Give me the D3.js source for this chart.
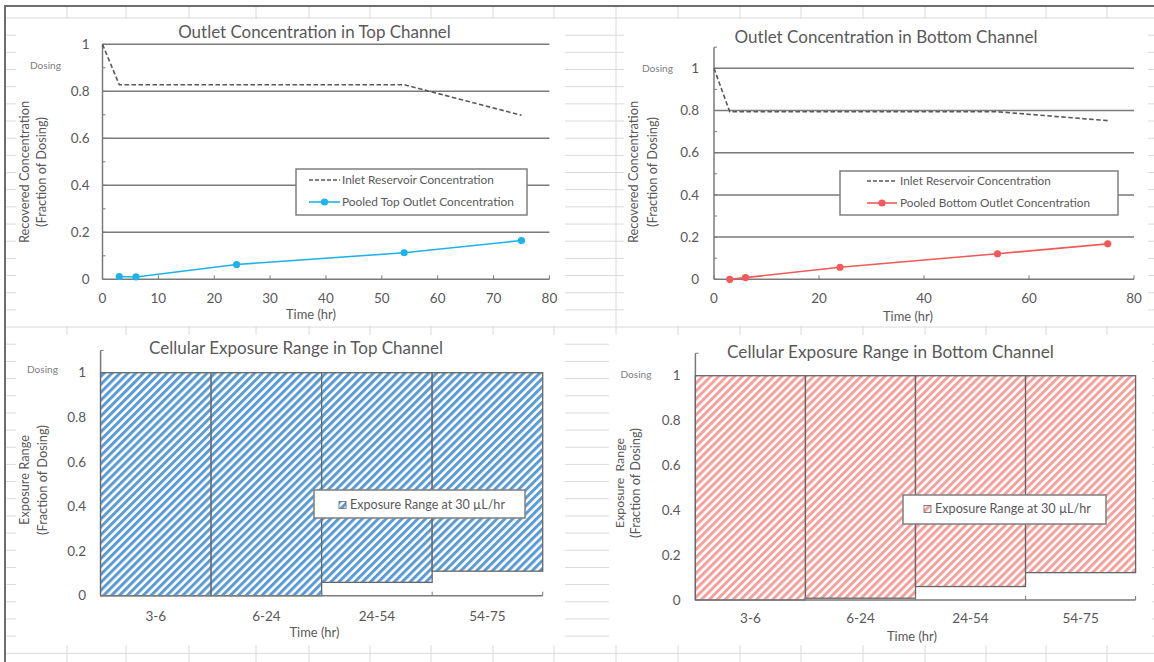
<!DOCTYPE html>
<html>
<head>
<meta charset="utf-8">
<script src="https://cdn.jsdelivr.net/npm/d3@7"></script>
<style>
  html, body { margin: 0; padding: 0; background: #ffffff; }
  svg { display: block; }
  text { font-family: Lato, "Open Sans", sans-serif; fill: #595959; }
</style>
</head>
<body>
<svg id="sheet" width="1154" height="662"></svg>
<script>
// ---- data ----
const timeTicks = [0, 10, 20, 30, 40, 50, 60, 70, 80];
const timeTicksWide = [0, 20, 40, 60, 80];
const fractionTicks = [0, 0.2, 0.4, 0.6, 0.8, 1];

const inletTimes = [0, 3, 54, 75];
const topInlet = [1, 0.828, 0.828, 0.698];
const bottomInlet = [1, 0.794, 0.794, 0.752];

const outletTimes = [3, 6, 24, 54, 75];
const topOutlet = [0.012, 0.010, 0.063, 0.113, 0.165];
const bottomOutlet = [0.0, 0.008, 0.057, 0.121, 0.168];

const exposureCategories = ["3-6", "6-24", "24-54", "54-75"];
const topExposureLow = [0, 0, 0.06, 0.11];
const topExposureHigh = [1, 1, 1, 1];
const bottomExposureLow = [0, 0.008, 0.06, 0.122];
const bottomExposureHigh = [1, 1, 1, 1];

// ---- styles ----
const GRID = "#7a7a7a";
const AXIS = "#7a7a7a";
const BLUE_LINE = "#1fb2ea";
const RED_LINE = "#f05a58";
const BLUE_HATCH = "#5b9bd5";
const RED_HATCH = "#f4a09c";
const TICK_FS = 13.5;

const svg = d3.select("#sheet");
const fmt = d => (d === 0 ? "0" : d === 1 ? "1" : d3.format(".1f")(d));

// resize a text element so its rendered width equals w
function fitWidth(sel, w) {
  const len = sel.node().getComputedTextLength();
  const fs = parseFloat(sel.attr("font-size"));
  if (len > 0) sel.attr("font-size", (fs * w / len).toFixed(2));
  return sel;
}

// ---- hatch patterns ----
const defs = svg.append("defs");
function hatch(id, color) {
  const p = defs.append("pattern")
    .attr("id", id)
    .attr("patternUnits", "userSpaceOnUse")
    .attr("width", 5.6).attr("height", 5.6)
    .attr("patternTransform", "rotate(45)");
  p.append("rect").attr("width", 5.6).attr("height", 5.6).attr("fill", "#ffffff");
  p.append("rect").attr("width", 3).attr("height", 5.6).attr("fill", color);
}
hatch("hatchBlue", BLUE_HATCH);
hatch("hatchRed", RED_HATCH);

// ---- worksheet background ----
const colLines = [67, 126, 189, 256, 309, 370, 431, 493, 554, 616, 678, 740, 801, 863, 925, 986, 1046, 1107];
const sheetGrid = svg.append("g").attr("stroke", "#dadada").attr("stroke-width", 1);
colLines.forEach(x => sheetGrid.append("line").attr("x1", x).attr("x2", x).attr("y1", 7).attr("y2", 662));
for (let y = 18; y < 662; y += 17.17) {
  sheetGrid.append("line").attr("x1", 5).attr("x2", 1154).attr("y1", y).attr("y2", y);
}
svg.append("line").attr("x1", 5).attr("x2", 5).attr("y1", 5).attr("y2", 662)
  .attr("stroke", "#6e6e6e").attr("stroke-width", 2);
svg.append("line").attr("x1", 4).attr("x2", 1154).attr("y1", 6).attr("y2", 6)
  .attr("stroke", "#6e6e6e").attr("stroke-width", 2);

// chart areas
[[16, 19, 549, 307], [624, 19, 524, 307], [16, 335, 549, 310], [609, 335, 543, 310]]
  .forEach(([x, y, w, h]) => svg.append("rect").attr("x", x).attr("y", y)
    .attr("width", w).attr("height", h).attr("fill", "#ffffff"));

// ---- shared pieces ----
function title(g, cx, cy, label, w) {
  const t = g.append("text").attr("x", cx).attr("y", cy).attr("dy", "0.35em")
    .attr("text-anchor", "middle").attr("font-size", 17).text(label);
  fitWidth(t, w);
}
function yTitle(g, x1, x2, cy, line1, w1, line2, w2) {
  [[x1, line1, w1], [x2, line2, w2]].forEach(([x, s, w]) => {
    const t = g.append("text").attr("transform", `translate(${x},${cy}) rotate(-90)`)
      .attr("dy", "0.35em").attr("text-anchor", "middle").attr("font-size", 12.5)
      .attr("xml:space", "preserve").text(s);
    fitWidth(t, w);
  });
}
function dosing(g, x, y) {
  fitWidth(g.append("text").attr("x", x).attr("y", y).attr("dy", "0.35em")
    .attr("font-size", 10).style("fill", "#808080").text("Dosing"), 31);
}
function yAxisLeft(g, y, x0, top, labelGap) {
  g.append("line").attr("x1", x0).attr("x2", x0).attr("y1", y(top)).attr("y2", y(0))
    .attr("stroke", AXIS).attr("stroke-width", 1.5);
  d3.range(0, Math.round(top * 10) + 1).map(i => i / 10).forEach(v => {
    g.append("line").attr("x1", x0).attr("x2", x0 + 3).attr("y1", y(v)).attr("y2", y(v))
      .attr("stroke", AXIS).attr("stroke-width", 1);
  });
  fractionTicks.forEach(v => {
    g.append("text").attr("x", x0 - labelGap).attr("y", y(v)).attr("dy", "0.35em")
      .attr("text-anchor", "end").attr("font-size", TICK_FS).text(fmt(v));
  });
}

// ---- line charts ----
function lineChart(opt) {
  const g = svg.append("g");
  const x = d3.scaleLinear().domain([0, 80]).range([opt.x0, opt.x1]);
  const y = d3.scaleLinear().domain([0, opt.yMax]).range([opt.y0, opt.y0 - opt.yMax * opt.unit]);

  // horizontal gridlines
  fractionTicks.filter(v => v > 0).forEach(v => {
    g.append("line").attr("x1", x(0)).attr("x2", x(80)).attr("y1", y(v)).attr("y2", y(v))
      .attr("stroke", GRID).attr("stroke-width", 1.5);
  });
  yAxisLeft(g, y, opt.x0, opt.yMax, opt.labelGap);

  // x axis
  g.append("line").attr("x1", x(0)).attr("x2", x(80)).attr("y1", y(0)).attr("y2", y(0))
    .attr("stroke", AXIS).attr("stroke-width", 1.5);
  opt.xTicks.forEach(v => {
    g.append("line").attr("x1", x(v)).attr("x2", x(v)).attr("y1", y(0)).attr("y2", y(0) - 4)
      .attr("stroke", AXIS).attr("stroke-width", 1);
    g.append("text").attr("x", x(v)).attr("y", y(0) + 19).attr("dy", "0.35em")
      .attr("text-anchor", "middle").attr("font-size", TICK_FS).text(v);
  });

  // inlet reservoir (dashed)
  const line = d3.line().x(d => x(d[0])).y(d => y(d[1]));
  g.append("path").datum(d3.zip(inletTimes, opt.inlet)).attr("d", line)
    .attr("fill", "none").attr("stroke", "#595959").attr("stroke-width", 1.6)
    .attr("stroke-dasharray", "4.5,2.5");

  // pooled outlet
  const pts = d3.zip(outletTimes, opt.outlet);
  g.append("path").datum(pts).attr("d", line)
    .attr("fill", "none").attr("stroke", opt.color).attr("stroke-width", 1.6);
  g.selectAll(null).data(pts).join("circle")
    .attr("cx", d => x(d[0])).attr("cy", d => y(d[1])).attr("r", 3.6).attr("fill", opt.color);

  // legend
  const L = opt.legend;
  g.append("rect").attr("x", L.x).attr("y", L.y).attr("width", L.w).attr("height", L.h)
    .attr("fill", "#ffffff").attr("stroke", "#7f7f7f").attr("stroke-width", 1.5);
  g.append("line").attr("x1", L.sx0).attr("x2", L.sx1).attr("y1", L.r1).attr("y2", L.r1)
    .attr("stroke", "#595959").attr("stroke-width", 1.5).attr("stroke-dasharray", "4,2");
  g.append("line").attr("x1", L.sx0).attr("x2", L.sx1).attr("y1", L.r2).attr("y2", L.r2)
    .attr("stroke", opt.color).attr("stroke-width", 1.6);
  g.append("circle").attr("cx", (L.sx0 + L.sx1) / 2).attr("cy", L.r2).attr("r", 3.6).attr("fill", opt.color);
  fitWidth(g.append("text").attr("x", L.tx).attr("y", L.r1).attr("dy", "0.35em")
    .attr("font-size", 11).text("Inlet Reservoir Concentration"), L.w1);
  fitWidth(g.append("text").attr("x", L.tx).attr("y", L.r2).attr("dy", "0.35em")
    .attr("font-size", 11).text(opt.outletName), L.w2);

  title(g, opt.title.x, opt.title.y, opt.title.text, opt.title.w);
  fitWidth(g.append("text").attr("x", opt.xt.x).attr("y", opt.xt.y).attr("dy", "0.35em")
    .attr("text-anchor", "middle").attr("font-size", 12.5).text("Time (hr)"), 50);
  yTitle(g, opt.yt.x1, opt.yt.x2, opt.yt.cy, "Recovered Concentration", 142, "(Fraction of Dosing)", 110);
  dosing(g, opt.dosing.x, opt.dosing.y);
}

// ---- exposure range bar charts ----
function rangeChart(opt) {
  const g = svg.append("g");
  const x = d3.scaleBand().domain(exposureCategories).range([opt.x0, opt.x1]).padding(0);
  const y = d3.scaleLinear().domain([0, 1.1]).range([opt.y0, opt.y0 - 1.1 * opt.unit]);

  yAxisLeft(g, y, opt.x0, 1.1, opt.labelGap);

  const bars = exposureCategories.map((c, i) => ({ c, lo: opt.low[i], hi: opt.high[i] }));
  g.selectAll(null).data(bars).join("rect")
    .attr("x", d => x(d.c)).attr("width", x.bandwidth())
    .attr("y", d => y(d.hi)).attr("height", d => y(d.lo) - y(d.hi))
    .attr("fill", `url(#${opt.pattern})`).attr("stroke", "#666666").attr("stroke-width", 1.3);

  // category axis
  g.append("line").attr("x1", opt.x0).attr("x2", opt.x1).attr("y1", y(0)).attr("y2", y(0))
    .attr("stroke", AXIS).attr("stroke-width", 1.5);
  exposureCategories.forEach(c => {
    const xr = x(c) + x.bandwidth();
    g.append("line").attr("x1", xr).attr("x2", xr).attr("y1", y(0)).attr("y2", y(0) - 4)
      .attr("stroke", AXIS).attr("stroke-width", 1);
    g.append("text").attr("x", x(c) + x.bandwidth() / 2).attr("y", opt.catY).attr("dy", "0.35em")
      .attr("text-anchor", "middle").attr("font-size", TICK_FS).text(c);
  });

  // legend
  const L = opt.legend;
  g.append("rect").attr("x", L.x).attr("y", L.y).attr("width", L.w).attr("height", L.h)
    .attr("fill", "#ffffff").attr("stroke", "#7f7f7f").attr("stroke-width", 1.5);
  g.append("rect").attr("x", L.sx).attr("y", L.cy - 3.5).attr("width", 7).attr("height", 7)
    .attr("fill", `url(#${opt.pattern})`).attr("stroke", "#666666").attr("stroke-width", 0.8);
  fitWidth(g.append("text").attr("x", L.tx).attr("y", L.cy).attr("dy", "0.35em")
    .attr("font-size", 11.5).text("Exposure Range at 30 \u00b5L/hr"), L.tw);

  title(g, opt.title.x, opt.title.y, opt.title.text, opt.title.w);
  fitWidth(g.append("text").attr("x", opt.xt.x).attr("y", opt.xt.y).attr("dy", "0.35em")
    .attr("text-anchor", "middle").attr("font-size", 12.5).text("Time (hr)"), 50);
  yTitle(g, opt.yt.x1, opt.yt.x2, opt.yt.cy, opt.yt.line1, 90, "(Fraction of Dosing)", 110);
  dosing(g, opt.dosing.x, opt.dosing.y);
}

lineChart({
  x0: 102.5, x1: 549.4, y0: 279.3, unit: 235, yMax: 1, labelGap: 13,
  xTicks: timeTicks, inlet: topInlet, outlet: topOutlet, color: BLUE_LINE,
  outletName: "Pooled Top Outlet Concentration",
  legend: { x: 296, y: 169, w: 231, h: 46, r1: 180, r2: 202, sx0: 309, sx1: 340, tx: 342, w1: 152, w2: 172 },
  title: { x: 314.5, y: 32, text: "Outlet Concentration in Top Channel", w: 273 },
  xt: { x: 311, y: 314 },
  yt: { x1: 25, x2: 42, cy: 172 },
  dosing: { x: 30, y: 65 }
});

lineChart({
  x0: 714, x1: 1134, y0: 279.3, unit: 211, yMax: 1.1, labelGap: 15,
  xTicks: timeTicksWide, inlet: bottomInlet, outlet: bottomOutlet, color: RED_LINE,
  outletName: "Pooled Bottom Outlet Concentration",
  legend: { x: 840, y: 171, w: 278, h: 44, r1: 181, r2: 203, sx0: 867, sx1: 897, tx: 900, w1: 151, w2: 190 },
  title: { x: 886, y: 37, text: "Outlet Concentration in Bottom Channel", w: 303 },
  xt: { x: 908, y: 316 },
  yt: { x1: 634, x2: 653, cy: 172 },
  dosing: { x: 642, y: 68 }
});

rangeChart({
  x0: 100.6, x1: 542.7, y0: 595.7, unit: 223, labelGap: 14.6,
  low: topExposureLow, high: topExposureHigh, pattern: "hatchBlue", catY: 616,
  legend: { x: 314, y: 490, w: 211, h: 28, sx: 339, cy: 505, tx: 350, tw: 155 },
  title: { x: 296, y: 348, text: "Cellular Exposure Range in Top Channel", w: 294 },
  xt: { x: 314.5, y: 632 },
  yt: { x1: 25, x2: 42.5, cy: 480, line1: "Exposure Range" },
  dosing: { x: 27, y: 369 }
});

rangeChart({
  x0: 695.4, x1: 1135.6, y0: 600, unit: 224.3, labelGap: 14.8,
  low: bottomExposureLow, high: bottomExposureHigh, pattern: "hatchRed", catY: 618,
  legend: { x: 903, y: 495, w: 203, h: 29, sx: 924, cy: 509, tx: 935, tw: 156 },
  title: { x: 890.5, y: 352, text: "Cellular Exposure Range in Bottom Channel", w: 327 },
  xt: { x: 912, y: 636.5 },
  yt: { x1: 619.5, x2: 636, cy: 483, line1: "Exposure  Range" },
  dosing: { x: 620.5, y: 374 }
});
</script>
</body>
</html>
